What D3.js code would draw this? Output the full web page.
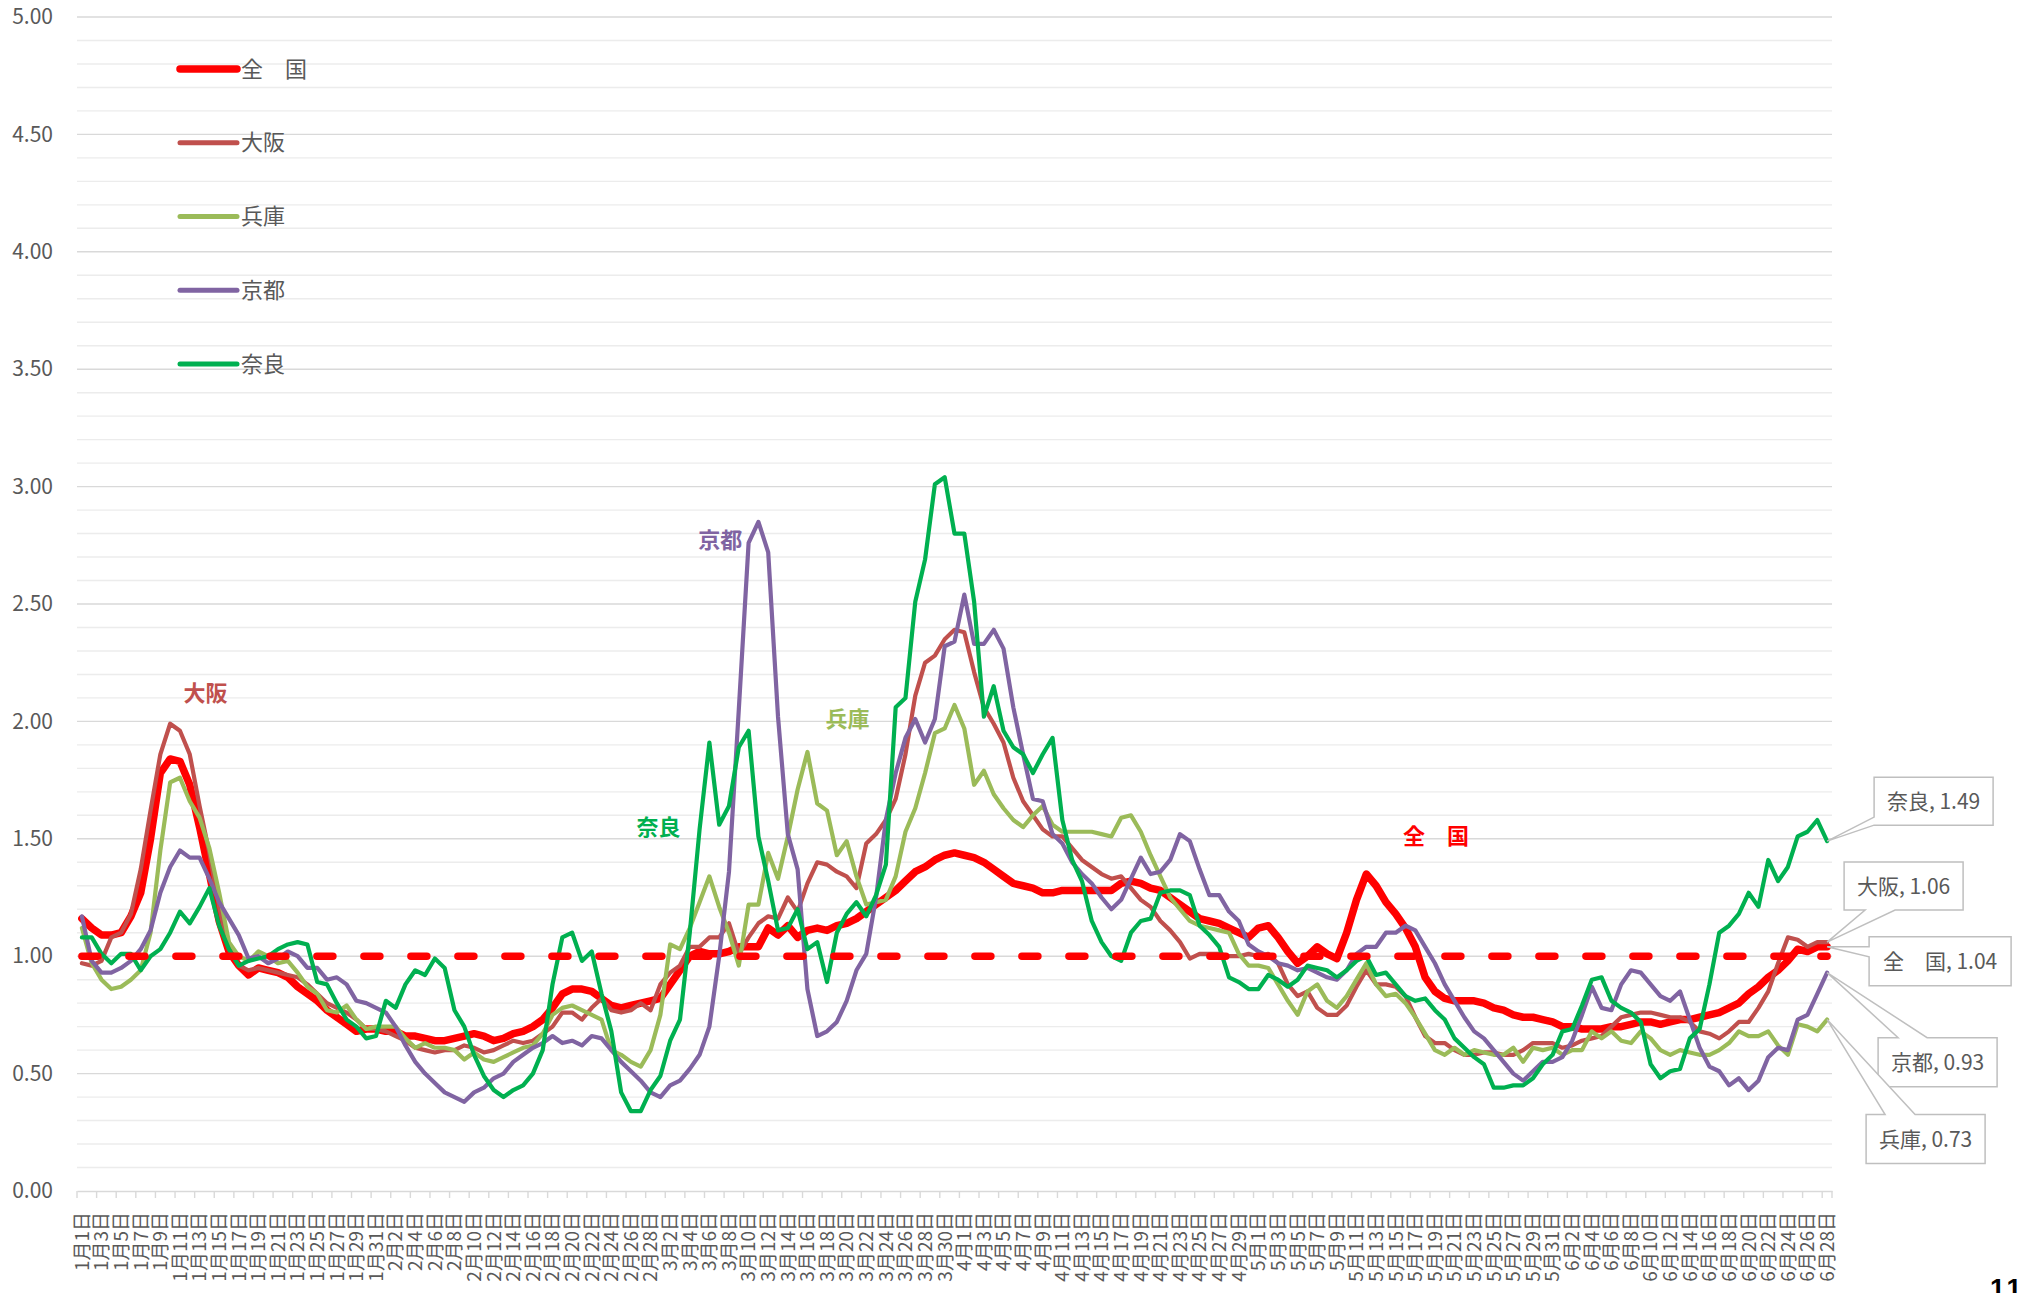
<!DOCTYPE html>
<html lang="ja">
<head>
<meta charset="utf-8">
<title>実効再生産数の推移</title>
<script src="https://cdn.jsdelivr.net/npm/d3@7"></script>
<style>
  html, body { margin: 0; padding: 0; background: #fff; }
  svg { display: block; font-family: "Noto Sans CJK JP", "Noto Sans", sans-serif; }
</style>
</head>
<body>
<div id="chart"></div>
<script>
// categories: one per day, 2021/1/1 .. 2021/6/28
const dates = d3.timeDay.range(new Date(2021, 0, 1), new Date(2021, 5, 29));

const zenkoku = [
  1.16,1.12,1.09,1.09,1.10,1.17,1.27,1.50,1.78,1.84,
  1.83,1.73,1.55,1.35,1.15,1.02,0.96,0.92,0.95,0.94,
  0.93,0.91,0.87,0.84,0.81,0.77,0.74,0.71,0.68,0.69,
  0.69,0.68,0.68,0.66,0.66,0.65,0.64,0.64,0.65,0.66,
  0.67,0.66,0.64,0.65,0.67,0.68,0.70,0.73,0.78,0.84,
  0.86,0.86,0.85,0.82,0.79,0.78,0.79,0.80,0.81,0.82,
  0.88,0.94,1.00,1.02,1.01,1.01,1.02,1.04,1.04,1.04,
  1.12,1.09,1.13,1.08,1.11,1.12,1.11,1.13,1.14,1.16,
  1.19,1.22,1.25,1.28,1.32,1.36,1.38,1.41,1.43,1.44,
  1.43,1.42,1.40,1.37,1.34,1.31,1.30,1.29,1.27,1.27,
  1.28,1.28,1.28,1.28,1.28,1.28,1.31,1.32,1.31,1.29,
  1.28,1.25,1.22,1.19,1.16,1.15,1.14,1.12,1.10,1.08,
  1.12,1.13,1.08,1.02,0.97,1.00,1.04,1.01,0.99,1.10,
  1.24,1.35,1.30,1.23,1.18,1.12,1.04,0.91,0.85,0.82,
  0.81,0.81,0.81,0.80,0.78,0.77,0.75,0.74,0.74,0.73,
  0.72,0.70,0.70,0.69,0.69,0.69,0.70,0.70,0.71,0.72,
  0.72,0.71,0.72,0.73,0.73,0.74,0.75,0.76,0.78,0.80,
  0.84,0.87,0.91,0.94,0.98,1.03,1.02,1.04,1.04
];

const osaka = [
  0.97,0.96,0.98,1.08,1.10,1.18,1.37,1.62,1.86,1.99,
  1.96,1.86,1.64,1.44,1.21,1.03,0.96,0.94,0.95,0.94,
  0.93,0.92,0.91,0.88,0.84,0.80,0.78,0.76,0.73,0.69,
  0.69,0.68,0.66,0.64,0.61,0.60,0.59,0.60,0.60,0.62,
  0.61,0.59,0.60,0.62,0.64,0.63,0.64,0.67,0.70,0.76,
  0.76,0.73,0.78,0.82,0.77,0.76,0.77,0.80,0.77,0.88,
  0.93,0.96,1.04,1.04,1.08,1.08,1.14,1.01,1.08,1.14,
  1.17,1.16,1.25,1.19,1.31,1.40,1.39,1.36,1.34,1.29,
  1.48,1.52,1.58,1.67,1.86,2.11,2.25,2.28,2.35,2.39,
  2.38,2.21,2.06,1.99,1.91,1.76,1.66,1.60,1.54,1.51,
  1.51,1.46,1.41,1.38,1.35,1.33,1.34,1.29,1.24,1.21,
  1.15,1.11,1.06,0.99,1.01,1.01,1.01,1.00,1.00,1.01,
  1.00,1.01,0.97,0.88,0.83,0.85,0.78,0.75,0.75,0.79,
  0.87,0.94,0.88,0.88,0.87,0.83,0.74,0.66,0.63,0.63,
  0.60,0.58,0.58,0.59,0.59,0.58,0.58,0.60,0.63,0.63,
  0.63,0.61,0.62,0.64,0.65,0.66,0.70,0.74,0.75,0.76,
  0.76,0.75,0.74,0.74,0.72,0.68,0.67,0.65,0.68,0.72,
  0.72,0.78,0.85,0.97,1.08,1.07,1.04,1.06,1.06
];

const hyogo = [
  1.12,0.97,0.90,0.86,0.87,0.90,0.94,1.10,1.45,1.74,
  1.76,1.66,1.59,1.46,1.27,1.06,1.00,0.98,1.02,1.00,
  0.97,0.98,0.93,0.87,0.84,0.77,0.76,0.79,0.73,0.69,
  0.70,0.70,0.70,0.65,0.61,0.63,0.61,0.61,0.60,0.56,
  0.59,0.56,0.55,0.57,0.59,0.61,0.62,0.67,0.75,0.78,
  0.79,0.77,0.75,0.73,0.60,0.58,0.55,0.53,0.60,0.75,
  1.05,1.03,1.12,1.23,1.34,1.21,1.10,0.96,1.22,1.22,
  1.44,1.33,1.51,1.71,1.87,1.65,1.62,1.43,1.49,1.34,
  1.22,1.23,1.24,1.34,1.53,1.63,1.78,1.95,1.97,2.07,
  1.97,1.73,1.79,1.69,1.63,1.58,1.55,1.60,1.64,1.56,
  1.53,1.53,1.53,1.53,1.52,1.51,1.59,1.60,1.53,1.43,
  1.34,1.25,1.20,1.15,1.13,1.12,1.11,1.10,1.01,0.96,
  0.96,0.95,0.88,0.81,0.75,0.85,0.88,0.81,0.78,0.83,
  0.90,0.97,0.88,0.83,0.84,0.80,0.74,0.67,0.60,0.58,
  0.61,0.58,0.60,0.59,0.58,0.58,0.61,0.55,0.61,0.60,
  0.61,0.58,0.60,0.60,0.68,0.65,0.68,0.64,0.63,0.68,
  0.65,0.60,0.58,0.60,0.59,0.58,0.58,0.60,0.63,0.68,
  0.66,0.66,0.68,0.62,0.58,0.71,0.70,0.68,0.73
];

const kyoto = [
  1.17,0.98,0.93,0.93,0.95,0.98,1.03,1.11,1.27,1.38,
  1.45,1.42,1.42,1.33,1.23,1.16,1.09,0.99,1.00,0.97,
  0.99,1.02,1.00,0.95,0.95,0.90,0.91,0.88,0.81,0.80,
  0.78,0.76,0.70,0.62,0.55,0.50,0.46,0.42,0.40,0.38,
  0.42,0.44,0.48,0.50,0.55,0.58,0.61,0.63,0.66,0.63,
  0.64,0.62,0.66,0.65,0.60,0.55,0.51,0.47,0.42,0.40,
  0.45,0.47,0.52,0.58,0.70,1.00,1.36,2.05,2.76,2.85,
  2.72,2.02,1.52,1.37,0.86,0.66,0.68,0.72,0.81,0.94,
  1.01,1.25,1.58,1.78,1.93,2.01,1.91,2.01,2.32,2.34,
  2.54,2.33,2.33,2.39,2.31,2.06,1.86,1.67,1.66,1.52,
  1.48,1.40,1.35,1.31,1.25,1.20,1.24,1.33,1.42,1.35,
  1.36,1.41,1.52,1.49,1.37,1.26,1.26,1.19,1.15,1.05,
  1.02,1.00,0.97,0.96,0.94,0.95,0.93,0.91,0.90,0.94,
  1.01,1.04,1.04,1.10,1.10,1.13,1.11,1.04,0.97,0.88,
  0.81,0.74,0.68,0.65,0.60,0.55,0.50,0.47,0.51,0.55,
  0.55,0.57,0.64,0.75,0.87,0.78,0.77,0.88,0.94,0.93,
  0.88,0.83,0.81,0.85,0.73,0.61,0.53,0.51,0.45,0.48,
  0.43,0.47,0.57,0.61,0.60,0.73,0.75,0.84,0.93
];

const nara = [
  1.08,1.08,1.01,0.97,1.01,1.01,0.94,1.00,1.03,1.10,
  1.19,1.14,1.21,1.29,1.13,1.03,0.96,0.98,0.99,1.00,
  1.03,1.05,1.06,1.05,0.89,0.88,0.80,0.73,0.70,0.65,
  0.66,0.81,0.78,0.88,0.94,0.92,0.99,0.95,0.77,0.70,
  0.58,0.49,0.43,0.40,0.43,0.45,0.50,0.60,0.88,1.08,
  1.10,0.98,1.02,0.84,0.68,0.42,0.34,0.34,0.43,0.49,
  0.64,0.73,1.10,1.54,1.91,1.56,1.64,1.89,1.96,1.51,
  1.32,1.11,1.12,1.20,1.03,1.06,0.89,1.10,1.18,1.23,
  1.17,1.26,1.39,2.06,2.10,2.51,2.69,3.01,3.04,2.80,
  2.80,2.51,2.02,2.15,1.96,1.89,1.86,1.78,1.86,1.93,
  1.58,1.41,1.32,1.15,1.06,1.00,0.98,1.10,1.15,1.16,
  1.27,1.28,1.28,1.26,1.13,1.09,1.04,0.91,0.89,0.86,
  0.86,0.92,0.90,0.87,0.90,0.96,0.95,0.94,0.91,0.94,
  0.98,1.00,0.92,0.93,0.88,0.83,0.81,0.82,0.77,0.73,
  0.65,0.61,0.57,0.54,0.44,0.44,0.45,0.45,0.48,0.54,
  0.58,0.68,0.69,0.79,0.90,0.91,0.81,0.78,0.76,0.72,
  0.54,0.48,0.51,0.52,0.65,0.69,0.88,1.10,1.13,1.18,
  1.27,1.21,1.41,1.32,1.38,1.51,1.53,1.58,1.49
];

const yTicks = [0, 0.5, 1, 1.5, 2, 2.5, 3, 3.5, 4, 4.5, 5];
const refLevel = 1.0;

// legend order = drawing order (later ones on top)
const seriesList = [
  { name: '全　国', values: zenkoku, color: '#ff0000', width: 7.5 },
  { name: '大阪',   values: osaka,   color: '#c0504d', width: 4.2 },
  { name: '兵庫',   values: hyogo,   color: '#9bbb59', width: 4.2 },
  { name: '京都',   values: kyoto,   color: '#8064a2', width: 4.2 },
  { name: '奈良',   values: nara,    color: '#00b050', width: 4.2 }
];

// text tags inside the plot, anchored in data space (category index, value)
const tags = [
  { name: '大阪',   at: 12.6,  value: 2.12, color: '#c0504d' },
  { name: '京都',   at: 65.1,  value: 2.77, color: '#8064a2' },
  { name: '兵庫',   at: 78.1,  value: 2.01, color: '#9bbb59' },
  { name: '奈良',   at: 58.8,  value: 1.55, color: '#00b050' },
  { name: '全　国', at: 138.1, value: 1.51, color: '#ff0000' }
];

// callouts for the last value; box offset from the point, wedge side and base
const callouts = [
  { name: '奈良',   dx: 47, dy: -64, w: 119, h: 48, side: 'left',   a: 40, b: 48 },
  { name: '大阪',   dx: 17, dy: -80, w: 119, h: 48, side: 'bottom', a: 21, b: 51 },
  { name: '全　国', dx: 42, dy: -10, w: 142, h: 49, side: 'left',   a: 10, b: 20 },
  { name: '京都',   dx: 51, dy: 65,  w: 119, h: 49, side: 'top',    a: 20, b: 49 },
  { name: '兵庫',   dx: 39, dy: 95,  w: 119, h: 49, side: 'top',    a: 19, b: 49 }
];

seriesList.forEach(s => {
  if (s.values.length !== dates.length) throw new Error(s.name + ' has ' + s.values.length + ' values');
});

const dayLabel = d => `${d.getMonth() + 1}月${d.getDate()}日`;

function calloutPath(px, py, x0, y0, w, h, side, a, b) {
  const x1 = x0 + w, y1 = y0 + h;
  if (side === 'left')
    return `M${x0},${y0}H${x1}V${y1}H${x0}V${y0 + b}L${px},${py}L${x0},${y0 + a}Z`;
  if (side === 'top')
    return `M${x0},${y0}H${x0 + a}L${px},${py}L${x0 + b},${y0}H${x1}V${y1}H${x0}Z`;
  return `M${x0},${y0}H${x1}V${y1}H${x0 + b}L${px},${py}L${x0 + a},${y1}H${x0}Z`;
}

class RtChart {
  constructor(parentElem) {
    this.parentElem = parentElem;
    this.width = 2024;
    this.height = 1293;
    this.plot = { left: 77, right: 1832, top: 17, bottom: 1191 };
    this.initVis();
  }

  initVis() {
    const p = this.plot;
    this.svg = d3.select(this.parentElem).append('svg')
      .attr('width', this.width)
      .attr('height', this.height);

    this.x = d3.scaleBand().domain(d3.range(dates.length)).range([p.left, p.right]);
    this.y = d3.scaleLinear().domain([0, 5]).range([p.bottom, p.top]);
    const bw = this.x.bandwidth();
    this.cx = i => this.x(i) + bw / 2;

    // gridlines every 0.1
    const grid = d3.range(1, 51).map(i => i / 10);
    this.svg.append('g').selectAll('line')
      .data(grid)
      .join('line')
        .attr('x1', p.left).attr('x2', p.right)
        .attr('y1', d => this.y(d)).attr('y2', d => this.y(d))
        .attr('stroke', (d, i) => (i + 1) % 5 === 0 ? '#d9d9d9' : '#ececec')
        .attr('stroke-width', 1.4);

    // y axis labels
    const yAxis = this.svg.append('g')
      .attr('transform', `translate(${p.left}, 0)`)
      .call(d3.axisLeft(this.y).tickValues(yTicks).tickFormat(d3.format('.2f')).tickSize(0).tickPadding(24));
    yAxis.select('.domain').remove();
    yAxis.selectAll('text')
      .attr('font-family', '"Noto Sans CJK JP", sans-serif')
      .attr('font-size', 21)
      .attr('fill', '#595959');

    // x axis: labels every 2 days
    const xAxis = this.svg.append('g')
      .attr('transform', `translate(0, ${p.bottom})`)
      .call(d3.axisBottom(this.x)
        .tickValues(d3.range(0, dates.length, 2))
        .tickFormat(i => dayLabel(dates[i]))
        .tickSize(0).tickSizeOuter(0));
    xAxis.select('.domain').attr('stroke', '#d9d9d9').attr('stroke-width', 1.6);
    xAxis.selectAll('text')
      .attr('font-family', '"Noto Sans CJK JP", sans-serif')
      .attr('font-size', 19)
      .attr('fill', '#595959')
      .attr('text-anchor', 'end')
      .attr('transform', 'rotate(-90)')
      .attr('x', -21)
      .attr('y', 0)
      .attr('dy', '0.36em');

    const tickIdx = d3.range(0, dates.length, 2).concat([dates.length]);
    this.svg.append('g').selectAll('line')
      .data(tickIdx)
      .join('line')
        .attr('x1', i => i < dates.length ? this.x(i) : p.right)
        .attr('x2', i => i < dates.length ? this.x(i) : p.right)
        .attr('y1', p.bottom).attr('y2', p.bottom + 7)
        .attr('stroke', '#d9d9d9')
        .attr('stroke-width', 1.4);

    // series
    const line = d3.line().x((d, i) => this.cx(i)).y(d => this.y(d));
    this.svg.append('g').selectAll('path')
      .data(seriesList)
      .join('path')
        .attr('d', d => line(d.values))
        .attr('fill', 'none')
        .attr('stroke', d => d.color)
        .attr('stroke-width', d => d.width)
        .attr('stroke-linejoin', 'round')
        .attr('stroke-linecap', 'round');

    // reference line at 1.0
    this.svg.append('line')
      .attr('x1', this.cx(0)).attr('x2', this.cx(dates.length - 1))
      .attr('y1', this.y(refLevel)).attr('y2', this.y(refLevel))
      .attr('stroke', '#ff0000')
      .attr('stroke-width', 7.5)
      .attr('stroke-linecap', 'round')
      .attr('stroke-dasharray', '16 31');

    // legend
    const legend = this.svg.append('g').selectAll('g')
      .data(seriesList)
      .join('g')
        .attr('transform', (d, i) => `translate(180, ${69 + i * 73.75})`);
    legend.append('line')
      .attr('x1', 0).attr('x2', 57)
      .attr('stroke', d => d.color)
      .attr('stroke-width', (d, i) => i === 0 ? 7.5 : 5)
      .attr('stroke-linecap', 'round');
    legend.append('text')
      .attr('x', 61)
      .attr('dy', '0.35em')
      .attr('font-size', 22)
      .attr('fill', '#595959')
      .text(d => d.name);

    // bold tags
    this.svg.append('g').selectAll('text')
      .data(tags)
      .join('text')
        .attr('x', d => this.x(0) + bw * (d.at + 0.5))
        .attr('y', d => this.y(d.value))
        .attr('dy', '0.35em')
        .attr('text-anchor', 'middle')
        .attr('font-size', 22)
        .attr('font-weight', 'bold')
        .attr('fill', d => d.color)
        .text(d => d.name);

    // callouts for last values
    const last = dates.length - 1;
    const byName = new Map(seriesList.map(s => [s.name, s]));
    const co = this.svg.append('g').selectAll('g')
      .data(callouts)
      .join('g');
    co.each((d, i, nodes) => {
      const s = byName.get(d.name);
      const px = this.cx(last), py = this.y(s.values[last]);
      const bx = px + d.dx, by = py + d.dy;
      const g = d3.select(nodes[i]);
      g.append('path')
        .attr('d', calloutPath(px, py, bx, by, d.w, d.h, d.side, d.a, d.b))
        .attr('fill', '#fff')
        .attr('stroke', '#bfbfbf')
        .attr('stroke-width', 1.5);
      g.append('text')
        .attr('x', bx + d.w / 2)
        .attr('y', by + d.h / 2)
        .attr('dy', '0.36em')
        .attr('text-anchor', 'middle')
        .attr('font-size', 21)
        .attr('fill', '#595959')
        .text(`${d.name}, ${d3.format('.2f')(s.values[last])}`);
    });

    // page number, cut by the bottom edge
    this.svg.append('text')
      .attr('x', 1990)
      .attr('y', 1298)
      .attr('font-family', '"Liberation Sans", sans-serif')
      .attr('font-size', 27)
      .attr('font-weight', 'bold')
      .attr('letter-spacing', 3)
      .attr('fill', '#000')
      .text('11');
  }
}

new RtChart('#chart');
</script>
</body>
</html>
